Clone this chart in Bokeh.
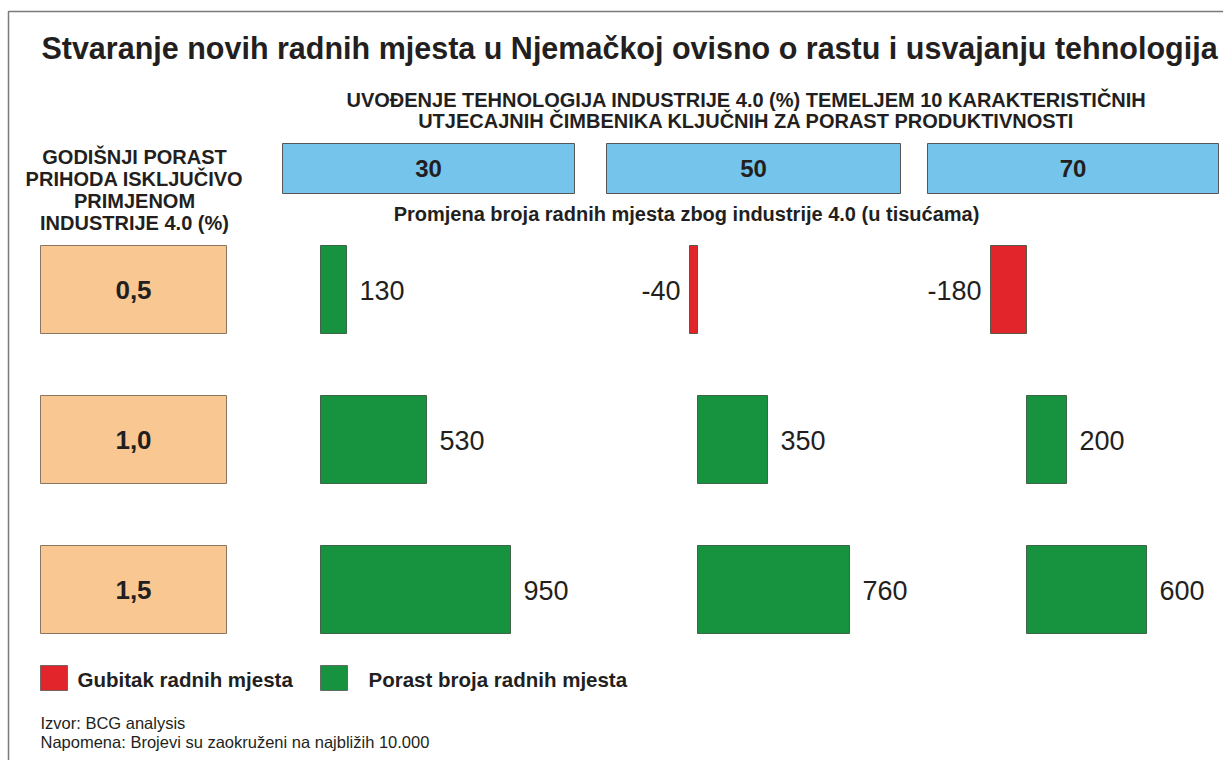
from bokeh.plotting import figure
from bokeh.models import Range1d, ColumnDataSource
from bokeh.core.properties import value
from bokeh.embed import file_html
from bokeh.resources import INLINE

# ---------------- data ----------------
adoption_levels = ["30", "50", "70"]          # % Industry 4.0 adoption (columns)
revenue_growth = ["0,5", "1,0", "1,5"]        # annual revenue growth % (rows)
jobs_row_05 = [130, -40, -180]                # change in jobs, thousands
jobs_row_10 = [530, 350, 200]
jobs_row_15 = [950, 760, 600]
jobs_rows = [jobs_row_05, jobs_row_10, jobs_row_15]

title = "Stvaranje novih radnih mjesta u Njemačkoj ovisno o rastu i usvajanju tehnologija"
subtitle_lines = ["UVOĐENJE TEHNOLOGIJA INDUSTRIJE 4.0 (%) TEMELJEM 10 KARAKTERISTIČNIH",
                  "UTJECAJNIH ČIMBENIKA KLJUČNIH ZA PORAST PRODUKTIVNOSTI"]
row_header_lines = ["GODIŠNJI PORAST", "PRIHODA ISKLJUČIVO", "PRIMJENOM", "INDUSTRIJE 4.0 (%)"]
bars_caption = "Promjena broja radnih mjesta zbog industrije 4.0 (u tisućama)"
legend_labels = ["Gubitak radnih mjesta", "Porast broja radnih mjesta"]
notes = ["Izvor: BCG analysis", "Napomena: Brojevi su zaokruženi na najbližih 10.000"]

# ---------------- layout / style ----------------
W, H = 1223, 760
FONT = value("Liberation Sans")
TXT = "#231f20"
GREEN = "#17923f"
RED = "#e1252b"
BLUE = "#74c4ec"
ORANGE = "#f8c792"
EDGE = "#555555"

col_base = [320, 697, 1026]
row_center = [289, 439, 589]
bar_h = 88
px_per_k = 0.2
head_left = [282, 606, 927]
head_right = [574, 900, 1218]

p = figure(width=W, height=H, x_range=Range1d(0, W), y_range=Range1d(H, 0),
           output_backend="svg", toolbar_location=None, min_border=0)
p.axis.visible = False
p.grid.visible = False
p.outline_line_color = None
p.background_fill_color = "white"
p.border_fill_color = "white"

# frame
p.line(x=[8, 8, W], y=[H, 11, 11], line_color="#7a7a7a", line_width=1.5)

# title
p.text(x=[629], y=[47], text=[title], text_font=FONT, text_font_style="bold",
       text_font_size="30.5px", text_align="center", text_baseline="middle", text_color=TXT)

# subtitle
p.text(x=[746, 746], y=[99, 120], text=subtitle_lines, text_font=FONT, text_font_style="bold",
       text_font_size="20px", text_align="center", text_baseline="middle", text_color=TXT)

# column header boxes
p.quad(left=head_left, right=head_right, top=[143] * 3, bottom=[193] * 3,
       fill_color=BLUE, line_color=EDGE, line_width=1)
p.text(x=[(a + b) / 2 for a, b in zip(head_left, head_right)], y=[168] * 3, text=adoption_levels,
       text_font=FONT, text_font_style="bold", text_font_size="24px",
       text_align="center", text_baseline="middle", text_color=TXT)

# row header
p.text(x=[134] * 4, y=[156, 178, 200, 222], text=row_header_lines, text_font=FONT,
       text_font_style="bold", text_font_size="20px", text_align="center",
       text_baseline="middle", text_color=TXT)

# caption above bars
p.text(x=[686], y=[213], text=[bars_caption], text_font=FONT, text_font_style="bold",
       text_font_size="20px", text_align="center", text_baseline="middle", text_color=TXT)

# row label boxes
p.quad(left=[40] * 3, right=[226] * 3, top=[c - bar_h / 2 for c in row_center],
       bottom=[c + bar_h / 2 for c in row_center], fill_color=ORANGE, line_color="#8a7560", line_width=1)
p.text(x=[133] * 3, y=row_center, text=revenue_growth, text_font=FONT, text_font_style="bold",
       text_font_size="26px", text_align="center", text_baseline="middle", text_color=TXT)

# bars
L, R, T, B, C = [], [], [], [], []
lx, ly, lt, la = [], [], [], []
for ri, row in enumerate(jobs_rows):
    for ci, v in enumerate(row):
        left = col_base[ci] + min(v, 0) * px_per_k
        right = col_base[ci] + max(v, 0) * px_per_k
        L.append(left); R.append(right)
        T.append(row_center[ri] - bar_h / 2); B.append(row_center[ri] + bar_h / 2)
        C.append(GREEN if v >= 0 else RED)
        if v >= 0:
            lx.append(right + 13); la.append("left")
        else:
            lx.append(left - 9); la.append("right")
        ly.append(row_center[ri] + 1)
        lt.append(str(v))

src = ColumnDataSource(dict(left=L, right=R, top=T, bottom=B, color=C))
p.quad(left="left", right="right", top="top", bottom="bottom", fill_color="color",
       line_color="#2d4a33", line_width=0.8, source=src)
lsrc = ColumnDataSource(dict(x=lx, y=ly, text=lt, align=la))
p.text(x="x", y="y", text="text", text_align="align", source=lsrc, text_font=FONT,
       text_font_size="27px", text_baseline="middle", text_color=TXT)

# legend
p.quad(left=[40, 320], right=[67, 347], top=[665, 665], bottom=[690, 690],
       fill_color=[RED, GREEN], line_color="#555555", line_width=0.8)
p.text(x=[77, 368], y=[679, 679], text=legend_labels, text_font=FONT, text_font_style="bold",
       text_font_size="20.5px", text_align="left", text_baseline="middle", text_color=TXT)

# notes
p.text(x=[40, 40], y=[722, 741], text=notes, text_font=FONT, text_font_size="16.5px",
       text_align="left", text_baseline="middle", text_color=TXT)

open("out.html", "w").write(file_html(p, INLINE))
